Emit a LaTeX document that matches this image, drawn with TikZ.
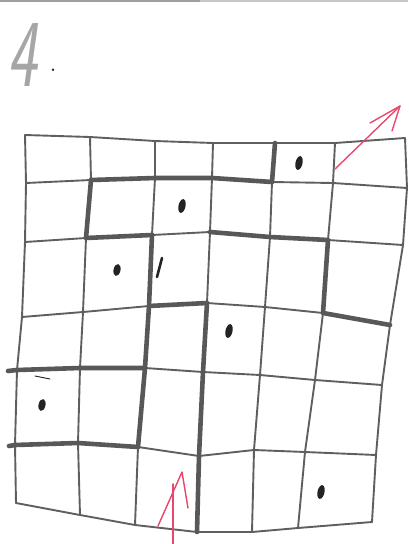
\documentclass[tikz,border=0pt]{standalone}
\usetikzlibrary{shapes.geometric}
\definecolor{pen}{RGB}{95,95,95}
\definecolor{wallpen}{RGB}{88,88,88}
\definecolor{ink}{RGB}{35,35,35}
\definecolor{redpen}{RGB}{232,72,108}
\begin{document}
\begin{tikzpicture}[x=1pt,y=-1pt,
  gridline/.style={draw=pen, line width=1.9pt, line cap=round, line join=round},
  wallline/.style={draw=wallpen, line width=4.6pt, line cap=round, line join=round},
  dotmark/.style={ellipse, fill=ink, draw=none, inner sep=0pt, minimum width=7pt, minimum height=14pt, rotate=-12},
  redarrow/.style={draw=redpen, line width=1.4pt, line cap=round, line join=round},
  markstroke/.style={draw=ink, line cap=round}]
\useasboundingbox (0,0) rectangle (408,544);

% page edge line at the top
\coordinate (tl) at (0,1);
\coordinate (tm) at (200,1);
\coordinate (tr) at (408,1);
\draw[draw=gray!75, line width=2.5pt] (tl) -- (tm);
\draw[draw=gray!45, line width=2.5pt] (tm) -- (tr);

% handwritten label
\node[font=\fontsize{96}{96}\selectfont\sffamily\slshape, text=gray!70, anchor=base west, inner sep=0pt] (num) at (7,86) {\scalebox{0.66}[1]{4}};
\node[font=\fontsize{30}{30}\selectfont, text=ink, anchor=base, inner sep=0pt] (numdot) at (53,71) {.};

% grid intersections p-column-row
\foreach \j/\pts in {
  0/{25/135,90/137,155/141,213/143,275/143,335/143,405/138},
  1/{26/183,91/180,155/178,212/178,272/182,333/183,407/188},
  2/{25/242,86/238,152/235,210/232,270/237,328/240,403/245},
  3/{22/317,83/312,149/306,207/303,265/307,323/313,390/325},
  4/{17/370,80/368,145/368,203/372,260/375,315/380,382/385},
  5/{15/445,78/443,138/447,199/456,254/450,305/452,376/455},
  6/{16/503,80/515,135/525,197/532,252/532,298/528,372/522}}{
  \foreach \xx/\yy [count=\i from 0] in \pts {
    \coordinate (p-\i-\j) at (\xx,\yy);
  }
}

% grid lines
\foreach \j in {0,...,6}{
  \draw[gridline] (p-0-\j) \foreach \i in {1,...,6}{ -- (p-\i-\j)};
}
\foreach \i in {0,...,6}{
  \draw[gridline] (p-\i-0) \foreach \j in {1,...,6}{ -- (p-\i-\j)};
}

% walls
\coordinate (w4) at (8,371);
\coordinate (w5) at (9,446);
\draw[wallline] (p-1-1) -- (p-2-1) -- (p-3-1) -- (p-4-1);
\draw[wallline] (p-4-0) -- (p-4-1);
\draw[wallline] (p-1-1) -- (p-1-2) -- (p-2-2);
\draw[wallline] (p-2-2) -- (p-2-3) -- (p-2-4) -- (p-2-5);
\draw[wallline] (p-3-2) -- (p-4-2) -- (p-5-2) -- (p-5-3) -- (p-6-3);
\draw[wallline] (p-2-3) -- (p-3-3) -- (p-3-4) -- (p-3-5) -- (p-3-6);
\draw[wallline] (w4) -- (p-0-4) -- (p-1-4) -- (p-2-4);
\draw[wallline] (w5) -- (p-0-5) -- (p-1-5) -- (p-2-5);

% small pencil marks
\coordinate (m1a) at (162,258);
\coordinate (m1b) at (157,277);
\draw[markstroke, line width=2.6pt] (m1a) -- (m1b);
\coordinate (m2a) at (35,376);
\coordinate (m2b) at (50,379);
\draw[markstroke, line width=0.9pt] (m2a) -- (m2b);

% dots
\node[dotmark] (d1) at (299,163) {};
\node[dotmark] (d2) at (182,206) {};
\node[dotmark, minimum height=12pt] (d3) at (117,270) {};
\node[dotmark] (d4) at (229,331) {};
\node[dotmark, minimum height=12pt] (d5) at (42,405) {};
\node[dotmark] (d6) at (321,492) {};

% red arrows
\coordinate (ra1) at (335,169);
\coordinate (ra2) at (400,106);
\coordinate (ra3) at (370,123);
\coordinate (ra4) at (392,131);
\draw[redarrow] (ra1) -- (ra2);
\draw[redarrow] (ra3) -- (ra2) -- (ra4);
\coordinate (rb1) at (173,544);
\coordinate (rb2) at (173,484);
\coordinate (rb3) at (158,526);
\coordinate (rb4) at (182,472);
\coordinate (rb5) at (188,508);
\draw[redarrow] (rb1) -- (rb2);
\draw[redarrow] (rb3) -- (rb4) -- (rb5);
\end{tikzpicture}
\end{document}
